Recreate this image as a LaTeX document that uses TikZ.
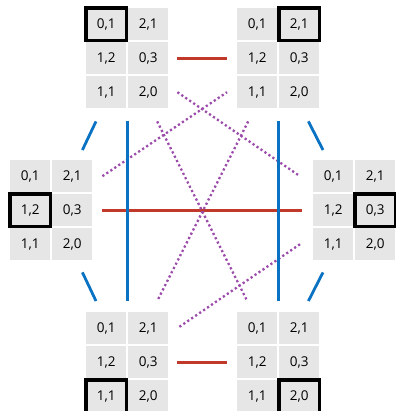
\documentclass[tikz,border=0pt]{standalone}
\usepackage{fontspec}
\setmainfont{Open Sans}
\usetikzlibrary{positioning}
\definecolor{cellgray}{HTML}{E6E6E6}
\definecolor{lineRed}{HTML}{C0392B}
\definecolor{lineBlue}{HTML}{0A72C2}
\definecolor{linePurple}{HTML}{9B4BAA}
\tikzset{
  gridbox/.style={minimum width=82pt, minimum height=100pt, inner sep=0pt, anchor=north west},
  cell/.style={fill=cellgray, minimum width=40pt, minimum height=32pt, inner sep=0pt,
    anchor=north west, font=\fontsize{13.5}{15}\selectfont},
  pick/.style={draw=black, line width=3.5pt},
  redline/.style={draw=lineRed, line width=2.8pt},
  blueline/.style={draw=lineBlue, line width=2.8pt},
  dotline/.style={draw=linePurple, line width=2.3pt, dash pattern=on 2.2pt off 2.6pt},
}
% one state: name, top-left x, top-left y, picked row, picked column
\newcommand{\stategrid}[5]{%
  \node[gridbox] (#1) at (#2,#3) {};
  \foreach \r/\c/\val in {1/1/{0,1}, 1/2/{2,1}, 2/1/{1,2}, 2/2/{0,3}, 3/1/{1,1}, 3/2/{2,0}}
    \node[cell] (#1-\r-\c) at (#2+42*\c-42, #3+34*\r-34) {\val};
  \draw[pick] (#1-#4-#5.north west) rectangle (#1-#4-#5.south east);
}
\begin{document}
\begin{tikzpicture}[x=1pt, y=-1pt]
  \useasboundingbox (0,0) rectangle (395,411);
  % the six states
  \stategrid{g1}{86}{8}{1}{1}
  \stategrid{g2}{237}{8}{1}{2}
  \stategrid{g3}{10}{160}{2}{1}
  \stategrid{g4}{313}{160}{2}{2}
  \stategrid{g5}{86}{312}{3}{1}
  \stategrid{g6}{237}{312}{3}{2}
  % red links
  \draw[redline] ([xshift=9pt]g1-2-2.east) -- ([xshift=-10pt]g2-2-1.west);
  \draw[redline] ([xshift=10pt]g3-2-2.east) -- ([xshift=-11pt]g4-2-1.west);
  \draw[redline] ([xshift=9pt]g5-2-2.east) -- ([xshift=-10pt]g6-2-1.west);
  % purple links
  \draw[dotline] ([xshift=10pt]g3-1-2.east) -- ([xshift=-10pt]g2-3-1.west);
  \draw[dotline] ([xshift=9pt]g1-3-2.east) -- ([xshift=-13pt]g4-1-1.west);
  \draw[dotline] ([shift={(30pt,-13pt)}]g1.south) -- ([shift={(-31pt,11pt)}]g6.north);
  \draw[dotline] ([shift={(-30pt,-13pt)}]g2.south) -- ([shift={(30pt,11pt)}]g5.north);
  \draw[dotline] ([xshift=-13pt]g4-3-1.west) -- ([xshift=9pt]g5-1-2.east);
  % blue links
  \draw[blueline] ([yshift=-13pt]g1.south) -- ([yshift=11pt]g5.north);
  \draw[blueline] ([yshift=-13pt]g2.south) -- ([yshift=11pt]g6.north);
  \draw[blueline] ([shift={(10pt,-13pt)}]g1.south west) -- ([shift={(-10pt,10pt)}]g3.north east);
  \draw[blueline] ([shift={(-11pt,-13pt)}]g2.south east) -- ([shift={(10pt,10pt)}]g4.north west);
  \draw[blueline] ([shift={(-10pt,-12pt)}]g3.south east) -- ([shift={(10pt,11pt)}]g5.north west);
  \draw[blueline] ([shift={(10pt,-12pt)}]g4.south west) -- ([shift={(-11pt,11pt)}]g6.north east);
\end{tikzpicture}
\end{document}
